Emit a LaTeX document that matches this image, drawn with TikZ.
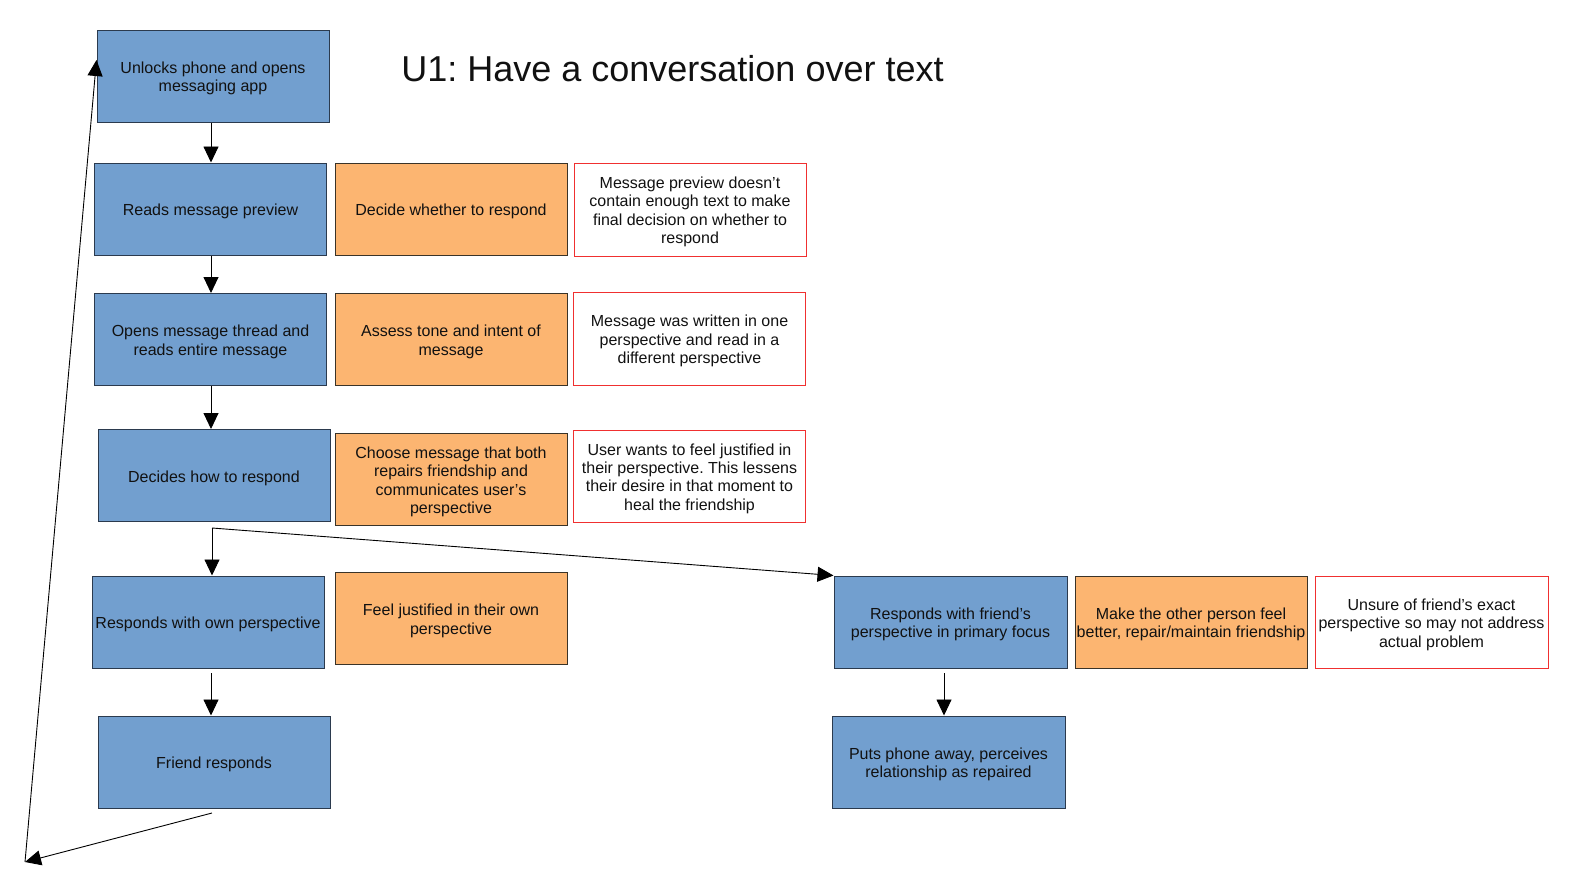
\documentclass[tikz,border=0pt]{standalone}
\usepackage{fontspec}
\setmainfont{Liberation Sans}
\frenchspacing
\usetikzlibrary{arrows.meta,calc}
\definecolor{bluebox}{HTML}{729FCF}
\definecolor{blueline}{HTML}{2B3A4E}
\definecolor{orangebox}{HTML}{FCB571}
\definecolor{orangeline}{HTML}{3A3328}
\definecolor{redline}{HTML}{F03030}
\definecolor{txt}{HTML}{111111}
\tikzset{
  base/.style={rectangle, minimum width=232pt, minimum height=92pt, inner sep=0pt, line width=1pt},
  lab/.style={align=center, font=\fontsize{16}{18.4}\selectfont\frenchspacing, text=txt, inner sep=2pt, yshift=-2.5pt},
  stepbox/.style={base, fill=bluebox, draw=blueline},
  goalbox/.style={base, fill=orangebox, draw=orangeline},
  issuebox/.style={base, fill=white, draw=redline},
  arr/.style={-{Triangle[length=16pt,width=15pt]}, line width=0.9pt, black},
}
\newcommand\mybox[4]{\node[#1, label={[lab]center:{#4}}] (#2) at (#3) {};}
\begin{document}
\begin{tikzpicture}[x=1pt,y=-1pt]
\useasboundingbox[fill=white] (0,0) rectangle (1578,886);
\node[font=\fontsize{36}{40}\selectfont\frenchspacing, text=txt] (title) at (672.5,68.5) {U1: Have a conversation over text};

\mybox{stepbox}{b1}{213,76}{Unlocks phone and opens\\messaging app}
\mybox{stepbox}{b2}{210.5,209}{Reads message preview}
\mybox{goalbox}{o2}{451,209}{Decide whether to respond}
\mybox{issuebox, minimum height=93pt}{r2}{690,209.5}{Message preview doesn’t\\contain enough text to make\\final decision on whether to\\respond}
\mybox{stepbox}{b3}{210.5,339.5}{Opens message thread and\\reads entire message}
\mybox{goalbox}{o3}{451,339.5}{Assess tone and intent of\\message}
\mybox{issuebox, minimum height=93pt}{r3}{689.5,338.5}{Message was written in one\\perspective and read in a\\different perspective}
\mybox{stepbox}{b4}{214,475.5}{Decides how to respond}
\mybox{goalbox}{o4}{451,479.5}{Choose message that both\\repairs friendship and\\communicates user’s\\perspective}
\mybox{issuebox}{r4}{689.5,476}{User wants to feel justified in\\their perspective. This lessens\\their desire in that moment to\\heal the friendship}
\mybox{stepbox}{b5}{208,622}{Responds with own perspective}
\mybox{goalbox}{o5}{451,618.5}{Feel justified in their own\\perspective}
\mybox{stepbox, minimum width=233pt}{b6}{950.5,622}{Responds with friend’s\\perspective in primary focus}
\mybox{goalbox}{o6}{1191,622}{Make the other person feel\\better, repair/maintain friendship}
\mybox{issuebox, minimum width=233pt}{r6}{1431.5,622}{Unsure of friend’s exact\\perspective so may not address\\actual problem}
\mybox{stepbox}{b7}{214,762}{Friend responds}
\mybox{stepbox, minimum width=233pt}{b8}{948.5,762}{Puts phone away, perceives\\relationship as repaired}

\coordinate (split) at (212,528);
\coordinate (b5out) at (211,673);
\coordinate (b6out) at (944,673);
\coordinate (b7out) at (212,813);
\coordinate (ret) at (25,862);

\draw[arr] (b1.south -| 211,0) -- (b2.north -| 211,0);
\draw[arr] (b2.south -| 211,0) -- (b3.north -| 211,0);
\draw[arr] (b3.south -| 211,0) -- (b4.north -| 211,0);
\draw[arr] (split) -- (split |- b5.north);
\draw[arr] (split) -- (b6.north west);
\draw[arr] (b5out) -- (b5out |- b7.north);
\draw[arr] (b6out) -- (b6out |- b8.north);
\draw[arr] (b7out) -- (ret);
\draw[arr] (ret) -- ([yshift=16pt]b1.west);
\end{tikzpicture}
\end{document}
